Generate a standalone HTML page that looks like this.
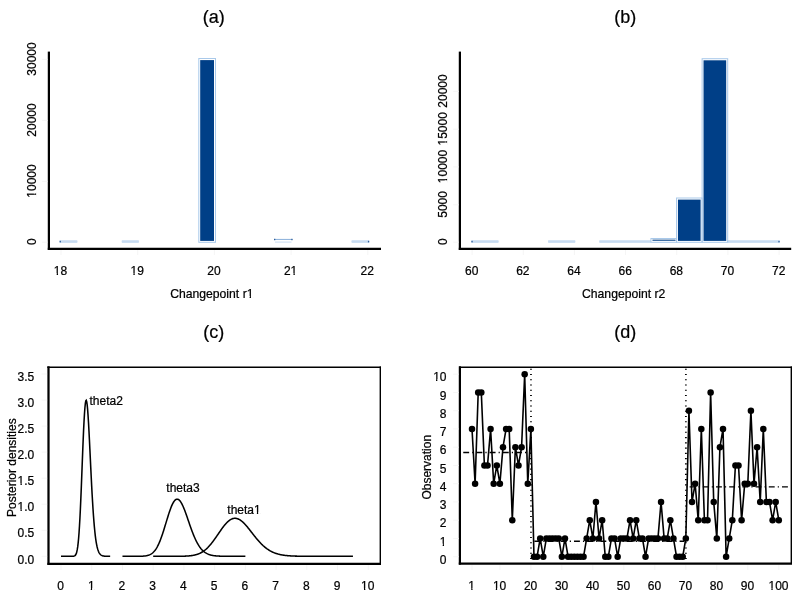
<!DOCTYPE html>
<html><head><meta charset="utf-8"><title>chart</title>
<style>html,body{margin:0;padding:0;background:#fff}svg{display:block;will-change:transform}text{font-family:"Liberation Sans",sans-serif;fill:#000;stroke:#000;stroke-width:0.22px}</style>
</head><body>
<svg width="800" height="601" viewBox="0 0 800 601">
<rect width="800" height="601" fill="#fff"/>
<text x="213.8" y="22.7" font-size="18" text-anchor="middle">(a)</text>
<text x="625.3" y="22.7" font-size="18" text-anchor="middle">(b)</text>
<text x="213.8" y="337.8" font-size="18" text-anchor="middle">(c)</text>
<text x="625.3" y="337.8" font-size="18" text-anchor="middle">(d)</text>
<line x1="48.9" y1="51.6" x2="48.9" y2="249.9" stroke="#000" stroke-width="2.25"/>
<line x1="47.8" y1="248.8" x2="381" y2="248.8" stroke="#000" stroke-width="2.25"/>
<text x="60.5" y="275.3" font-size="12" text-anchor="middle">18</text>
<line x1="61.00" y1="250" x2="61.00" y2="255" stroke="#f5f5f5" stroke-width="1"/>
<text x="137.2" y="275.3" font-size="12" text-anchor="middle">19</text>
<line x1="137.70" y1="250" x2="137.70" y2="255" stroke="#f5f5f5" stroke-width="1"/>
<text x="213.89999999999998" y="275.3" font-size="12" text-anchor="middle">20</text>
<line x1="214.40" y1="250" x2="214.40" y2="255" stroke="#f5f5f5" stroke-width="1"/>
<text x="290.6" y="275.3" font-size="12" text-anchor="middle">21</text>
<line x1="291.10" y1="250" x2="291.10" y2="255" stroke="#f5f5f5" stroke-width="1"/>
<text x="367.3" y="275.3" font-size="12" text-anchor="middle">22</text>
<line x1="367.80" y1="250" x2="367.80" y2="255" stroke="#f5f5f5" stroke-width="1"/>
<text x="35.8" y="241.75" font-size="12" text-anchor="middle" transform="rotate(-90 35.8 241.75)">0</text>
<line x1="42.0" y1="242.15" x2="47.5" y2="242.15" stroke="#f5f5f5" stroke-width="1"/>
<text x="35.8" y="181.0" font-size="12" text-anchor="middle" transform="rotate(-90 35.8 181.0)">10000</text>
<line x1="42.0" y1="181.40" x2="47.5" y2="181.40" stroke="#f5f5f5" stroke-width="1"/>
<text x="35.8" y="120.0" font-size="12" text-anchor="middle" transform="rotate(-90 35.8 120.0)">20000</text>
<line x1="42.0" y1="120.40" x2="47.5" y2="120.40" stroke="#f5f5f5" stroke-width="1"/>
<text x="35.8" y="59.0" font-size="12" text-anchor="middle" transform="rotate(-90 35.8 59.0)">30000</text>
<line x1="42.0" y1="59.40" x2="47.5" y2="59.40" stroke="#f5f5f5" stroke-width="1"/>
<text x="211.8" y="298.0" font-size="12.2" text-anchor="middle">Changepoint r1</text>
<g opacity="0.5"><rect x="59.60" y="240.25" width="17.70" height="1.7" fill="#8fb8e4"/><rect x="59.60" y="241.15" width="17.70" height="1.7" fill="#8fb8e4"/></g>
<rect x="59.60" y="240.80" width="1.30" height="1.60" fill="#2f5f9c" stroke="none" stroke-width="1"/>
<g opacity="0.5"><rect x="121.80" y="240.25" width="17.00" height="1.7" fill="#8fb8e4"/><rect x="121.80" y="241.15" width="17.00" height="1.7" fill="#8fb8e4"/></g>
<rect x="198.80" y="58.50" width="16.70" height="183.80" fill="none" stroke="#a9c9ea" stroke-width="1"/>
<rect x="200.20" y="60.10" width="13.80" height="180.80" fill="#003f87" stroke="none" stroke-width="1"/>
<line x1="274.3" y1="239.45" x2="292.3" y2="239.45" stroke="#93b6dd" stroke-width="1.1"/>
<rect x="274.00" y="238.80" width="1.30" height="1.40" fill="#2f5f9c" stroke="none" stroke-width="1"/>
<rect x="291.30" y="238.80" width="1.30" height="1.40" fill="#2f5f9c" stroke="none" stroke-width="1"/>
<line x1="275" y1="242.1" x2="291.5" y2="242.1" stroke="#c9dcf1" stroke-width="1"/>
<g opacity="0.5"><rect x="351.60" y="240.25" width="17.60" height="1.7" fill="#8fb8e4"/><rect x="351.60" y="241.15" width="17.60" height="1.7" fill="#8fb8e4"/></g>
<rect x="367.90" y="240.80" width="1.30" height="1.60" fill="#2f5f9c" stroke="none" stroke-width="1"/>
<line x1="459.9" y1="51.6" x2="459.9" y2="249.9" stroke="#000" stroke-width="2.25"/>
<line x1="458.8" y1="248.8" x2="791.2" y2="248.8" stroke="#000" stroke-width="2.25"/>
<text x="471.7" y="275.4" font-size="12" text-anchor="middle">60</text>
<line x1="472.10" y1="250" x2="472.10" y2="255" stroke="#f5f5f5" stroke-width="1"/>
<text x="522.8599999999999" y="275.4" font-size="12" text-anchor="middle">62</text>
<line x1="523.26" y1="250" x2="523.26" y2="255" stroke="#f5f5f5" stroke-width="1"/>
<text x="574.02" y="275.4" font-size="12" text-anchor="middle">64</text>
<line x1="574.42" y1="250" x2="574.42" y2="255" stroke="#f5f5f5" stroke-width="1"/>
<text x="625.18" y="275.4" font-size="12" text-anchor="middle">66</text>
<line x1="625.58" y1="250" x2="625.58" y2="255" stroke="#f5f5f5" stroke-width="1"/>
<text x="676.3399999999999" y="275.4" font-size="12" text-anchor="middle">68</text>
<line x1="676.74" y1="250" x2="676.74" y2="255" stroke="#f5f5f5" stroke-width="1"/>
<text x="727.4999999999999" y="275.4" font-size="12" text-anchor="middle">70</text>
<line x1="727.90" y1="250" x2="727.90" y2="255" stroke="#f5f5f5" stroke-width="1"/>
<text x="778.6599999999999" y="275.4" font-size="12" text-anchor="middle">72</text>
<line x1="779.06" y1="250" x2="779.06" y2="255" stroke="#f5f5f5" stroke-width="1"/>
<text x="446.7" y="241.75" font-size="12" text-anchor="middle" transform="rotate(-90 446.7 241.75)">0</text>
<line x1="453.2" y1="242.15" x2="458.7" y2="242.15" stroke="#f5f5f5" stroke-width="1"/>
<text x="446.7" y="204.4" font-size="12" text-anchor="middle" transform="rotate(-90 446.7 204.4)">5000</text>
<line x1="453.2" y1="204.80" x2="458.7" y2="204.80" stroke="#f5f5f5" stroke-width="1"/>
<text x="446.7" y="166.5" font-size="12" text-anchor="middle" transform="rotate(-90 446.7 166.5)">10000</text>
<line x1="453.2" y1="166.90" x2="458.7" y2="166.90" stroke="#f5f5f5" stroke-width="1"/>
<text x="446.7" y="128.8" font-size="12" text-anchor="middle" transform="rotate(-90 446.7 128.8)">15000</text>
<line x1="453.2" y1="129.20" x2="458.7" y2="129.20" stroke="#f5f5f5" stroke-width="1"/>
<text x="446.7" y="91.0" font-size="12" text-anchor="middle" transform="rotate(-90 446.7 91.0)">20000</text>
<line x1="453.2" y1="91.40" x2="458.7" y2="91.40" stroke="#f5f5f5" stroke-width="1"/>
<text x="623.7" y="298.2" font-size="12.2" text-anchor="middle">Changepoint r2</text>
<g opacity="0.5"><rect x="471.40" y="240.25" width="27.08" height="1.7" fill="#8fb8e4"/><rect x="471.40" y="241.15" width="27.08" height="1.7" fill="#8fb8e4"/></g>
<rect x="471.40" y="240.80" width="1.30" height="1.60" fill="#2f5f9c" stroke="none" stroke-width="1"/>
<g opacity="0.5"><rect x="548.14" y="240.25" width="27.08" height="1.7" fill="#8fb8e4"/><rect x="548.14" y="241.15" width="27.08" height="1.7" fill="#8fb8e4"/></g>
<g opacity="0.5"><rect x="599.30" y="240.25" width="51.66" height="1.7" fill="#8fb8e4"/><rect x="599.30" y="241.15" width="51.66" height="1.7" fill="#8fb8e4"/></g>
<rect x="650.96" y="238.50" width="25.58" height="3.80" fill="none" stroke="#a9c9ea" stroke-width="1"/>
<line x1="652.46" y1="240.2" x2="675.54" y2="240.2" stroke="#003f87" stroke-width="1.1"/>
<rect x="676.54" y="198.00" width="25.58" height="44.30" fill="none" stroke="#a9c9ea" stroke-width="1"/>
<rect x="677.94" y="199.60" width="22.68" height="41.30" fill="#003f87" stroke="none" stroke-width="1"/>
<rect x="702.12" y="58.70" width="25.58" height="183.60" fill="none" stroke="#a9c9ea" stroke-width="1"/>
<rect x="703.52" y="60.30" width="22.68" height="180.60" fill="#003f87" stroke="none" stroke-width="1"/>
<g opacity="0.5"><rect x="727.70" y="240.25" width="51.96" height="1.7" fill="#8fb8e4"/><rect x="727.70" y="241.15" width="51.96" height="1.7" fill="#8fb8e4"/></g>
<rect x="778.36" y="240.80" width="1.30" height="1.60" fill="#2f5f9c" stroke="none" stroke-width="1"/>
<line x1="48.5" y1="366.3" x2="48.5" y2="564.85" stroke="#000" stroke-width="2.25"/>
<line x1="47.4" y1="563.75" x2="381" y2="563.75" stroke="#000" stroke-width="2.25"/>
<line x1="47.3" y1="367.2" x2="381" y2="367.2" stroke="#000" stroke-width="1.4"/>
<line x1="380.3" y1="366.5" x2="380.3" y2="564" stroke="#000" stroke-width="1.4"/>
<text x="60.5" y="590.3" font-size="12" text-anchor="middle">0</text>
<line x1="61.00" y1="565" x2="61.00" y2="570" stroke="#f5f5f5" stroke-width="1"/>
<text x="91.23" y="590.3" font-size="12" text-anchor="middle">1</text>
<line x1="91.73" y1="565" x2="91.73" y2="570" stroke="#f5f5f5" stroke-width="1"/>
<text x="121.96000000000001" y="590.3" font-size="12" text-anchor="middle">2</text>
<line x1="122.46" y1="565" x2="122.46" y2="570" stroke="#f5f5f5" stroke-width="1"/>
<text x="152.69" y="590.3" font-size="12" text-anchor="middle">3</text>
<line x1="153.19" y1="565" x2="153.19" y2="570" stroke="#f5f5f5" stroke-width="1"/>
<text x="183.42000000000002" y="590.3" font-size="12" text-anchor="middle">4</text>
<line x1="183.92" y1="565" x2="183.92" y2="570" stroke="#f5f5f5" stroke-width="1"/>
<text x="214.15" y="590.3" font-size="12" text-anchor="middle">5</text>
<line x1="214.65" y1="565" x2="214.65" y2="570" stroke="#f5f5f5" stroke-width="1"/>
<text x="244.88" y="590.3" font-size="12" text-anchor="middle">6</text>
<line x1="245.38" y1="565" x2="245.38" y2="570" stroke="#f5f5f5" stroke-width="1"/>
<text x="275.61" y="590.3" font-size="12" text-anchor="middle">7</text>
<line x1="276.11" y1="565" x2="276.11" y2="570" stroke="#f5f5f5" stroke-width="1"/>
<text x="306.34000000000003" y="590.3" font-size="12" text-anchor="middle">8</text>
<line x1="306.84" y1="565" x2="306.84" y2="570" stroke="#f5f5f5" stroke-width="1"/>
<text x="337.07" y="590.3" font-size="12" text-anchor="middle">9</text>
<line x1="337.57" y1="565" x2="337.57" y2="570" stroke="#f5f5f5" stroke-width="1"/>
<text x="367.8" y="590.3" font-size="12" text-anchor="middle">10</text>
<line x1="368.30" y1="565" x2="368.30" y2="570" stroke="#f5f5f5" stroke-width="1"/>
<text x="34.3" y="563.5" font-size="12" text-anchor="end">0.0</text>
<line x1="41.6" y1="556.30" x2="47.1" y2="556.30" stroke="#f5f5f5" stroke-width="1"/>
<text x="34.3" y="537.46" font-size="12" text-anchor="end">0.5</text>
<line x1="41.6" y1="530.26" x2="47.1" y2="530.26" stroke="#f5f5f5" stroke-width="1"/>
<text x="34.3" y="511.41999999999996" font-size="12" text-anchor="end">1.0</text>
<line x1="41.6" y1="504.22" x2="47.1" y2="504.22" stroke="#f5f5f5" stroke-width="1"/>
<text x="34.3" y="485.37999999999994" font-size="12" text-anchor="end">1.5</text>
<line x1="41.6" y1="478.18" x2="47.1" y2="478.18" stroke="#f5f5f5" stroke-width="1"/>
<text x="34.3" y="459.34" font-size="12" text-anchor="end">2.0</text>
<line x1="41.6" y1="452.14" x2="47.1" y2="452.14" stroke="#f5f5f5" stroke-width="1"/>
<text x="34.3" y="433.29999999999995" font-size="12" text-anchor="end">2.5</text>
<line x1="41.6" y1="426.10" x2="47.1" y2="426.10" stroke="#f5f5f5" stroke-width="1"/>
<text x="34.3" y="407.25999999999993" font-size="12" text-anchor="end">3.0</text>
<line x1="41.6" y1="400.06" x2="47.1" y2="400.06" stroke="#f5f5f5" stroke-width="1"/>
<text x="34.3" y="381.21999999999997" font-size="12" text-anchor="end">3.5</text>
<line x1="41.6" y1="374.02" x2="47.1" y2="374.02" stroke="#f5f5f5" stroke-width="1"/>
<text x="15.8" y="467.7" font-size="12" text-anchor="middle" transform="rotate(-90 15.8 467.7)">Posterior densities</text>
<polyline points="61.00,556.30 61.45,556.30 61.90,556.30 62.35,556.30 62.80,556.30 63.26,556.30 63.71,556.30 64.16,556.30 64.61,556.30 65.06,556.30 65.51,556.30 65.96,556.30 66.41,556.30 66.86,556.30 67.32,556.30 67.77,556.30 68.22,556.30 68.67,556.30 69.12,556.30 69.57,556.30 70.02,556.30 70.47,556.30 70.92,556.30 71.37,556.30 71.83,556.30 72.28,556.29 72.73,556.27 73.18,556.25 73.63,556.19 74.08,556.09 74.53,555.92 74.98,555.63 75.43,555.16 75.89,554.44 76.34,553.38 76.79,551.85 77.24,549.73 77.69,546.88 78.14,543.17 78.59,538.48 79.04,532.69 79.49,525.77 79.95,517.69 80.40,508.53 80.85,498.39 81.30,487.46 81.75,475.99 82.20,464.28 82.65,452.65 83.10,441.48 83.55,431.09 84.01,421.82 84.46,413.96 84.91,407.75 85.36,403.35 85.81,400.86 86.26,400.29 86.71,401.62 87.16,404.71 87.61,409.42 88.06,415.52 88.52,422.78 88.97,430.96 89.42,439.79 89.87,449.04 90.32,458.46 90.77,467.85 91.22,477.04 91.67,485.87 92.12,494.23 92.58,502.03 93.03,509.22 93.48,515.76 93.93,521.65 94.38,526.89 94.83,531.52 95.28,535.55 95.73,539.05 96.18,542.04 96.64,544.59 97.09,546.74 97.54,548.55 97.99,550.05 98.44,551.28 98.89,552.30 99.34,553.12 99.79,553.79 100.24,554.33 100.70,554.76 101.15,555.10 101.60,555.38 102.05,555.59 102.50,555.75 102.95,555.88 103.40,555.98 103.85,556.06 104.30,556.12 104.76,556.16 105.21,556.20 105.66,556.22 106.11,556.24 106.56,556.26 107.01,556.27 107.46,556.28 107.91,556.28 108.36,556.29 108.81,556.29 109.27,556.29 109.72,556.30 110.17,556.30" fill="none" stroke="#000" stroke-width="1.55" stroke-linejoin="miter" stroke-miterlimit="10"/>
<polyline points="122.46,556.30 122.91,556.30 123.36,556.30 123.81,556.30 124.26,556.30 124.71,556.30 125.16,556.30 125.61,556.30 126.06,556.30 126.51,556.30 126.96,556.30 127.41,556.30 127.86,556.30 128.31,556.30 128.76,556.30 129.21,556.30 129.66,556.30 130.11,556.30 130.56,556.30 131.01,556.30 131.47,556.30 131.92,556.30 132.37,556.30 132.82,556.30 133.27,556.30 133.72,556.30 134.17,556.30 134.62,556.30 135.07,556.30 135.52,556.29 135.97,556.29 136.42,556.29 136.87,556.29 137.32,556.29 137.77,556.28 138.22,556.28 138.67,556.27 139.12,556.27 139.57,556.26 140.02,556.25 140.47,556.24 140.92,556.23 141.37,556.22 141.82,556.20 142.27,556.18 142.72,556.15 143.17,556.13 143.62,556.09 144.07,556.06 144.52,556.01 144.97,555.96 145.42,555.90 145.87,555.84 146.32,555.76 146.77,555.67 147.22,555.57 147.67,555.46 148.12,555.33 148.57,555.19 149.03,555.03 149.48,554.85 149.93,554.65 150.38,554.42 150.83,554.17 151.28,553.90 151.73,553.60 152.18,553.26 152.63,552.90 153.08,552.50 153.53,552.06 153.98,551.59 154.43,551.07 154.88,550.52 155.33,549.92 155.78,549.28 156.23,548.59 156.68,547.85 157.13,547.07 157.58,546.24 158.03,545.36 158.48,544.43 158.93,543.45 159.38,542.42 159.83,541.34 160.28,540.22 160.73,539.05 161.18,537.83 161.63,536.57 162.08,535.28 162.53,533.94 162.98,532.57 163.43,531.17 163.88,529.75 164.33,528.30 164.78,526.83 165.23,525.35 165.68,523.86 166.13,522.36 166.59,520.87 167.04,519.39 167.49,517.91 167.94,516.46 168.39,515.03 168.84,513.63 169.29,512.26 169.74,510.94 170.19,509.67 170.64,508.44 171.09,507.28 171.54,506.17 171.99,505.14 172.44,504.17 172.89,503.28 173.34,502.47 173.79,501.75 174.24,501.10 174.69,500.55 175.14,500.09 175.59,499.71 176.04,499.43 176.49,499.25 176.94,499.16 177.39,499.16 177.84,499.25 178.29,499.43 178.74,499.71 179.19,500.07 179.64,500.52 180.09,501.05 180.54,501.66 180.99,502.35 181.44,503.10 181.89,503.93 182.34,504.82 182.79,505.78 183.24,506.78 183.69,507.84 184.15,508.95 184.60,510.09 185.05,511.28 185.50,512.49 185.95,513.74 186.40,515.01 186.85,516.29 187.30,517.59 187.75,518.90 188.20,520.21 188.65,521.52 189.10,522.84 189.55,524.14 190.00,525.44 190.45,526.72 190.90,527.98 191.35,529.23 191.80,530.46 192.25,531.66 192.70,532.83 193.15,533.98 193.60,535.10 194.05,536.19 194.50,537.24 194.95,538.27 195.40,539.25 195.85,540.21 196.30,541.13 196.75,542.01 197.20,542.86 197.65,543.67 198.10,544.45 198.55,545.19 199.00,545.90 199.45,546.57 199.90,547.21 200.35,547.82 200.80,548.40 201.25,548.94 201.71,549.46 202.16,549.95 202.61,550.40 203.06,550.84 203.51,551.24 203.96,551.62 204.41,551.98 204.86,552.31 205.31,552.62 205.76,552.91 206.21,553.18 206.66,553.44 207.11,553.67 207.56,553.89 208.01,554.09 208.46,554.28 208.91,554.45 209.36,554.61 209.81,554.76 210.26,554.90 210.71,555.02 211.16,555.14 211.61,555.24 212.06,555.34 212.51,555.43 212.96,555.51 213.41,555.59 213.86,555.65 214.31,555.72 214.76,555.77 215.21,555.82 215.66,555.87 216.11,555.91 216.56,555.95 217.01,555.99 217.46,556.02 217.91,556.05 218.36,556.07 218.81,556.10 219.27,556.12 219.72,556.14 220.17,556.16 220.62,556.17 221.07,556.19 221.52,556.20 221.97,556.21 222.42,556.22 222.87,556.23 223.32,556.24 223.77,556.24 224.22,556.25 224.67,556.26 225.12,556.26 225.57,556.27 226.02,556.27 226.47,556.27 226.92,556.28 227.37,556.28 227.82,556.28 228.27,556.28 228.72,556.29 229.17,556.29 229.62,556.29 230.07,556.29 230.52,556.29 230.97,556.29 231.42,556.29 231.87,556.29 232.32,556.30 232.77,556.30 233.22,556.30 233.67,556.30 234.12,556.30 234.57,556.30 235.02,556.30 235.47,556.30 235.92,556.30 236.37,556.30 236.83,556.30 237.28,556.30 237.73,556.30 238.18,556.30 238.63,556.30 239.08,556.30 239.53,556.30 239.98,556.30 240.43,556.30 240.88,556.30 241.33,556.30 241.78,556.30 242.23,556.30 242.68,556.30 243.13,556.30 243.58,556.30 244.03,556.30 244.48,556.30 244.93,556.30 245.38,556.30" fill="none" stroke="#000" stroke-width="1.55" stroke-linejoin="miter" stroke-miterlimit="10"/>
<polyline points="153.19,556.30 153.64,556.30 154.09,556.30 154.54,556.30 154.99,556.30 155.44,556.30 155.89,556.30 156.34,556.30 156.79,556.30 157.24,556.30 157.69,556.30 158.14,556.30 158.59,556.30 159.04,556.30 159.49,556.30 159.94,556.30 160.39,556.30 160.84,556.30 161.29,556.30 161.74,556.30 162.19,556.30 162.64,556.30 163.09,556.30 163.54,556.30 163.99,556.30 164.44,556.30 164.89,556.30 165.34,556.30 165.79,556.30 166.24,556.30 166.69,556.30 167.14,556.30 167.59,556.30 168.04,556.30 168.49,556.30 168.94,556.30 169.39,556.30 169.84,556.30 170.29,556.30 170.74,556.30 171.19,556.30 171.63,556.30 172.08,556.30 172.53,556.30 172.98,556.30 173.43,556.29 173.88,556.29 174.33,556.29 174.78,556.29 175.23,556.29 175.68,556.29 176.13,556.29 176.58,556.29 177.03,556.28 177.48,556.28 177.93,556.28 178.38,556.27 178.83,556.27 179.28,556.27 179.73,556.26 180.18,556.26 180.63,556.25 181.08,556.25 181.53,556.24 181.98,556.23 182.43,556.22 182.88,556.21 183.33,556.20 183.78,556.19 184.23,556.17 184.68,556.16 185.13,556.14 185.58,556.12 186.03,556.10 186.48,556.08 186.93,556.06 187.38,556.03 187.83,556.00 188.28,555.97 188.73,555.93 189.18,555.89 189.63,555.85 190.08,555.81 190.53,555.76 190.98,555.70 191.43,555.64 191.88,555.58 192.33,555.51 192.78,555.44 193.23,555.36 193.68,555.27 194.13,555.18 194.58,555.08 195.03,554.98 195.48,554.86 195.93,554.74 196.38,554.61 196.83,554.47 197.28,554.33 197.73,554.17 198.18,554.00 198.63,553.83 199.08,553.64 199.53,553.44 199.98,553.24 200.43,553.02 200.88,552.78 201.33,552.54 201.78,552.28 202.23,552.01 202.68,551.73 203.13,551.43 203.58,551.12 204.03,550.80 204.48,550.46 204.93,550.11 205.38,549.74 205.83,549.36 206.28,548.97 206.73,548.56 207.18,548.14 207.63,547.70 208.07,547.24 208.52,546.78 208.97,546.30 209.42,545.80 209.87,545.29 210.32,544.77 210.77,544.23 211.22,543.69 211.67,543.13 212.12,542.55 212.57,541.97 213.02,541.38 213.47,540.77 213.92,540.16 214.37,539.54 214.82,538.91 215.27,538.28 215.72,537.63 216.17,536.99 216.62,536.33 217.07,535.68 217.52,535.02 217.97,534.36 218.42,533.70 218.87,533.04 219.32,532.38 219.77,531.73 220.22,531.07 220.67,530.43 221.12,529.79 221.57,529.15 222.02,528.53 222.47,527.91 222.92,527.31 223.37,526.71 223.82,526.13 224.27,525.56 224.72,525.01 225.17,524.48 225.62,523.96 226.07,523.46 226.52,522.97 226.97,522.51 227.42,522.07 227.87,521.65 228.32,521.25 228.77,520.87 229.22,520.52 229.67,520.19 230.12,519.89 230.57,519.61 231.02,519.36 231.47,519.13 231.92,518.93 232.37,518.76 232.82,518.61 233.27,518.50 233.72,518.41 234.17,518.34 234.62,518.31 235.07,518.30 235.52,518.32 235.97,518.36 236.42,518.44 236.87,518.54 237.32,518.66 237.77,518.81 238.22,518.99 238.67,519.19 239.12,519.42 239.57,519.67 240.02,519.94 240.47,520.23 240.92,520.55 241.37,520.89 241.82,521.25 242.27,521.62 242.72,522.02 243.17,522.43 243.62,522.87 244.06,523.31 244.51,523.77 244.96,524.25 245.41,524.74 245.86,525.24 246.31,525.76 246.76,526.28 247.21,526.81 247.66,527.36 248.11,527.91 248.56,528.46 249.01,529.02 249.46,529.59 249.91,530.16 250.36,530.74 250.81,531.32 251.26,531.90 251.71,532.48 252.16,533.06 252.61,533.64 253.06,534.22 253.51,534.79 253.96,535.37 254.41,535.94 254.86,536.50 255.31,537.06 255.76,537.62 256.21,538.17 256.66,538.71 257.11,539.25 257.56,539.78 258.01,540.31 258.46,540.82 258.91,541.33 259.36,541.83 259.81,542.32 260.26,542.80 260.71,543.27 261.16,543.73 261.61,544.18 262.06,544.62 262.51,545.05 262.96,545.48 263.41,545.89 263.86,546.29 264.31,546.68 264.76,547.06 265.21,547.43 265.66,547.79 266.11,548.14 266.56,548.48 267.01,548.81 267.46,549.12 267.91,549.43 268.36,549.73 268.81,550.02 269.26,550.30 269.71,550.57 270.16,550.83 270.61,551.08 271.06,551.32 271.51,551.55 271.96,551.78 272.41,551.99 272.86,552.20 273.31,552.40 273.76,552.59 274.21,552.78 274.66,552.95 275.11,553.12 275.56,553.28 276.01,553.44 276.46,553.59 276.91,553.73 277.36,553.86 277.81,553.99 278.26,554.12 278.71,554.24 279.16,554.35 279.61,554.46 280.06,554.56 280.50,554.65 280.95,554.75 281.40,554.83 281.85,554.92 282.30,555.00 282.75,555.07 283.20,555.14 283.65,555.21 284.10,555.28 284.55,555.34 285.00,555.40 285.45,555.45 285.90,555.50 286.35,555.55 286.80,555.60 287.25,555.64 287.70,555.68 288.15,555.72 288.60,555.76 289.05,555.79 289.50,555.82 289.95,555.85 290.40,555.88 290.85,555.91 291.30,555.94 291.75,555.96 292.20,555.98 292.65,556.00 293.10,556.02 293.55,556.04 294.00,556.06 294.45,556.08 294.90,556.09 295.35,556.11 295.80,556.12 296.25,556.13 296.70,556.14 297.15,556.15 297.60,556.16 298.05,556.17 298.50,556.18 298.95,556.19 299.40,556.20 299.85,556.21 300.30,556.21 300.75,556.22 301.20,556.23 301.65,556.23 302.10,556.24 302.55,556.24 303.00,556.25 303.45,556.25 303.90,556.25 304.35,556.26 304.80,556.26 305.25,556.26 305.70,556.27 306.15,556.27 306.60,556.27 307.05,556.27 307.50,556.28 307.95,556.28 308.40,556.28 308.85,556.28 309.30,556.28 309.75,556.28 310.20,556.29 310.65,556.29 311.10,556.29 311.55,556.29 312.00,556.29 312.45,556.29 312.90,556.29 313.35,556.29 313.80,556.29 314.25,556.29 314.70,556.29 315.15,556.29 315.60,556.29 316.05,556.30 316.50,556.30 316.94,556.30 317.39,556.30 317.84,556.30 318.29,556.30 318.74,556.30 319.19,556.30 319.64,556.30 320.09,556.30 320.54,556.30 320.99,556.30 321.44,556.30 321.89,556.30 322.34,556.30 322.79,556.30 323.24,556.30 323.69,556.30 324.14,556.30 324.59,556.30 325.04,556.30 325.49,556.30 325.94,556.30 326.39,556.30 326.84,556.30 327.29,556.30 327.74,556.30 328.19,556.30 328.64,556.30 329.09,556.30 329.54,556.30 329.99,556.30 330.44,556.30 330.89,556.30 331.34,556.30 331.79,556.30 332.24,556.30 332.69,556.30 333.14,556.30 333.59,556.30 334.04,556.30 334.49,556.30 334.94,556.30 335.39,556.30 335.84,556.30 336.29,556.30 336.74,556.30 337.19,556.30 337.64,556.30 338.09,556.30 338.54,556.30 338.99,556.30 339.44,556.30 339.89,556.30 340.34,556.30 340.79,556.30 341.24,556.30 341.69,556.30 342.14,556.30 342.59,556.30 343.04,556.30 343.49,556.30 343.94,556.30 344.39,556.30 344.84,556.30 345.29,556.30 345.74,556.30 346.19,556.30 346.64,556.30 347.09,556.30 347.54,556.30 347.99,556.30 348.44,556.30 348.89,556.30 349.34,556.30 349.79,556.30 350.24,556.30 350.69,556.30 351.14,556.30 351.59,556.30 352.04,556.30 352.49,556.30 352.94,556.30" fill="none" stroke="#000" stroke-width="1.55" stroke-linejoin="miter" stroke-miterlimit="10"/>
<text x="89.5" y="405" font-size="12" text-anchor="start">theta2</text>
<text x="166.3" y="492.3" font-size="12" text-anchor="start">theta3</text>
<text x="227.3" y="514.3" font-size="12" text-anchor="start">theta1</text>
<line x1="459.9" y1="366.3" x2="459.9" y2="564.6" stroke="#000" stroke-width="2.25"/>
<line x1="458.8" y1="563.5" x2="792" y2="563.5" stroke="#000" stroke-width="2.25"/>
<line x1="459" y1="367.2" x2="792" y2="367.2" stroke="#000" stroke-width="1.4"/>
<line x1="791.3" y1="366.5" x2="791.3" y2="564" stroke="#000" stroke-width="1.4"/>
<text x="471.7" y="590.3" font-size="12" text-anchor="middle">1</text>
<line x1="472.00" y1="565" x2="472.00" y2="570" stroke="#f5f5f5" stroke-width="1"/>
<text x="499.591" y="590.3" font-size="12" text-anchor="middle">10</text>
<line x1="499.89" y1="565" x2="499.89" y2="570" stroke="#f5f5f5" stroke-width="1"/>
<text x="530.581" y="590.3" font-size="12" text-anchor="middle">20</text>
<line x1="530.88" y1="565" x2="530.88" y2="570" stroke="#f5f5f5" stroke-width="1"/>
<text x="561.571" y="590.3" font-size="12" text-anchor="middle">30</text>
<line x1="561.87" y1="565" x2="561.87" y2="570" stroke="#f5f5f5" stroke-width="1"/>
<text x="592.561" y="590.3" font-size="12" text-anchor="middle">40</text>
<line x1="592.86" y1="565" x2="592.86" y2="570" stroke="#f5f5f5" stroke-width="1"/>
<text x="623.551" y="590.3" font-size="12" text-anchor="middle">50</text>
<line x1="623.85" y1="565" x2="623.85" y2="570" stroke="#f5f5f5" stroke-width="1"/>
<text x="654.541" y="590.3" font-size="12" text-anchor="middle">60</text>
<line x1="654.84" y1="565" x2="654.84" y2="570" stroke="#f5f5f5" stroke-width="1"/>
<text x="685.5310000000001" y="590.3" font-size="12" text-anchor="middle">70</text>
<line x1="685.83" y1="565" x2="685.83" y2="570" stroke="#f5f5f5" stroke-width="1"/>
<text x="716.5210000000001" y="590.3" font-size="12" text-anchor="middle">80</text>
<line x1="716.82" y1="565" x2="716.82" y2="570" stroke="#f5f5f5" stroke-width="1"/>
<text x="747.5110000000001" y="590.3" font-size="12" text-anchor="middle">90</text>
<line x1="747.81" y1="565" x2="747.81" y2="570" stroke="#f5f5f5" stroke-width="1"/>
<text x="778.5010000000001" y="590.3" font-size="12" text-anchor="middle">100</text>
<line x1="778.80" y1="565" x2="778.80" y2="570" stroke="#f5f5f5" stroke-width="1"/>
<text x="446.5" y="563.8000000000001" font-size="12" text-anchor="end">0</text>
<line x1="453.2" y1="556.70" x2="458.7" y2="556.70" stroke="#f5f5f5" stroke-width="1"/>
<text x="446.5" y="545.5500000000001" font-size="12" text-anchor="end">1</text>
<line x1="453.2" y1="538.45" x2="458.7" y2="538.45" stroke="#f5f5f5" stroke-width="1"/>
<text x="446.5" y="527.3000000000001" font-size="12" text-anchor="end">2</text>
<line x1="453.2" y1="520.20" x2="458.7" y2="520.20" stroke="#f5f5f5" stroke-width="1"/>
<text x="446.5" y="509.05000000000007" font-size="12" text-anchor="end">3</text>
<line x1="453.2" y1="501.95" x2="458.7" y2="501.95" stroke="#f5f5f5" stroke-width="1"/>
<text x="446.5" y="490.80000000000007" font-size="12" text-anchor="end">4</text>
<line x1="453.2" y1="483.70" x2="458.7" y2="483.70" stroke="#f5f5f5" stroke-width="1"/>
<text x="446.5" y="472.55000000000007" font-size="12" text-anchor="end">5</text>
<line x1="453.2" y1="465.45" x2="458.7" y2="465.45" stroke="#f5f5f5" stroke-width="1"/>
<text x="446.5" y="454.30000000000007" font-size="12" text-anchor="end">6</text>
<line x1="453.2" y1="447.20" x2="458.7" y2="447.20" stroke="#f5f5f5" stroke-width="1"/>
<text x="446.5" y="436.05000000000007" font-size="12" text-anchor="end">7</text>
<line x1="453.2" y1="428.95" x2="458.7" y2="428.95" stroke="#f5f5f5" stroke-width="1"/>
<text x="446.5" y="417.80000000000007" font-size="12" text-anchor="end">8</text>
<line x1="453.2" y1="410.70" x2="458.7" y2="410.70" stroke="#f5f5f5" stroke-width="1"/>
<text x="446.5" y="399.55000000000007" font-size="12" text-anchor="end">9</text>
<line x1="453.2" y1="392.45" x2="458.7" y2="392.45" stroke="#f5f5f5" stroke-width="1"/>
<text x="446.5" y="381.30000000000007" font-size="12" text-anchor="end">10</text>
<line x1="453.2" y1="374.20" x2="458.7" y2="374.20" stroke="#f5f5f5" stroke-width="1"/>
<text x="431.1" y="467.2" font-size="12" text-anchor="middle" transform="rotate(-90 431.1 467.2)">Observation</text>
<line x1="530.981" y1="368.65" x2="530.981" y2="562" stroke="#000" stroke-width="1.8" stroke-dasharray="1.1 4.16"/>
<line x1="685.881" y1="368.65" x2="685.881" y2="562" stroke="#000" stroke-width="1.8" stroke-dasharray="1.1 4.16"/>
<line x1="463.25" y1="452.5" x2="530.5" y2="452.5" stroke="#000" stroke-width="1.35" stroke-dasharray="5.9 3.05 1.2 3.05"/>
<line x1="532" y1="541.2" x2="684" y2="541.2" stroke="#000" stroke-width="1.35" stroke-dasharray="5.9 3.05 1.2 3.05" stroke-dashoffset="10.8"/>
<line x1="686" y1="486.8" x2="790.5" y2="486.8" stroke="#000" stroke-width="1.35" stroke-dasharray="5.9 3.05 1.2 3.05" stroke-dashoffset="9.6"/>
<polyline points="472.00,428.95 475.10,483.70 478.20,392.45 481.30,392.45 484.40,465.45 487.50,465.45 490.59,428.95 493.69,483.70 496.79,465.45 499.89,483.70 502.99,447.20 506.09,428.95 509.19,428.95 512.29,520.20 515.39,447.20 518.49,465.45 521.58,447.20 524.68,374.20 527.78,483.70 530.88,428.95 533.98,556.70 537.08,556.70 540.18,538.45 543.28,556.70 546.38,538.45 549.48,538.45 552.57,538.45 555.67,538.45 558.77,538.45 561.87,556.70 564.97,538.45 568.07,556.70 571.17,556.70 574.27,556.70 577.37,556.70 580.47,556.70 583.56,556.70 586.66,538.45 589.76,520.20 592.86,538.45 595.96,501.95 599.06,538.45 602.16,520.20 605.26,556.70 608.36,556.70 611.46,538.45 614.55,538.45 617.65,556.70 620.75,538.45 623.85,538.45 626.95,538.45 630.05,520.20 633.15,538.45 636.25,520.20 639.35,538.45 642.45,538.45 645.54,556.70 648.64,538.45 651.74,538.45 654.84,538.45 657.94,538.45 661.04,501.95 664.14,538.45 667.24,538.45 670.34,520.20 673.43,538.45 676.53,556.70 679.63,556.70 682.73,556.70 685.83,538.45 688.93,410.70 692.03,501.95 695.13,483.70 698.23,520.20 701.33,428.95 704.42,520.20 707.52,520.20 710.62,392.45 713.72,501.95 716.82,538.45 719.92,447.20 723.02,428.95 726.12,556.70 729.22,538.45 732.32,520.20 735.41,465.45 738.51,465.45 741.61,520.20 744.71,483.70 747.81,483.70 750.91,410.70 754.01,483.70 757.11,447.20 760.21,501.95 763.31,428.95 766.40,501.95 769.50,501.95 772.60,520.20 775.70,501.95 778.80,520.20" fill="none" stroke="#000" stroke-width="1.6" stroke-linejoin="round"/>
<circle cx="472.00" cy="428.95" r="3.25"/>
<circle cx="475.10" cy="483.70" r="3.25"/>
<circle cx="478.20" cy="392.45" r="3.25"/>
<circle cx="481.30" cy="392.45" r="3.25"/>
<circle cx="484.40" cy="465.45" r="3.25"/>
<circle cx="487.50" cy="465.45" r="3.25"/>
<circle cx="490.59" cy="428.95" r="3.25"/>
<circle cx="493.69" cy="483.70" r="3.25"/>
<circle cx="496.79" cy="465.45" r="3.25"/>
<circle cx="499.89" cy="483.70" r="3.25"/>
<circle cx="502.99" cy="447.20" r="3.25"/>
<circle cx="506.09" cy="428.95" r="3.25"/>
<circle cx="509.19" cy="428.95" r="3.25"/>
<circle cx="512.29" cy="520.20" r="3.25"/>
<circle cx="515.39" cy="447.20" r="3.25"/>
<circle cx="518.49" cy="465.45" r="3.25"/>
<circle cx="521.58" cy="447.20" r="3.25"/>
<circle cx="524.68" cy="374.20" r="3.25"/>
<circle cx="527.78" cy="483.70" r="3.25"/>
<circle cx="530.88" cy="428.95" r="3.25"/>
<circle cx="533.98" cy="556.70" r="3.25"/>
<circle cx="537.08" cy="556.70" r="3.25"/>
<circle cx="540.18" cy="538.45" r="3.25"/>
<circle cx="543.28" cy="556.70" r="3.25"/>
<circle cx="546.38" cy="538.45" r="3.25"/>
<circle cx="549.48" cy="538.45" r="3.25"/>
<circle cx="552.57" cy="538.45" r="3.25"/>
<circle cx="555.67" cy="538.45" r="3.25"/>
<circle cx="558.77" cy="538.45" r="3.25"/>
<circle cx="561.87" cy="556.70" r="3.25"/>
<circle cx="564.97" cy="538.45" r="3.25"/>
<circle cx="568.07" cy="556.70" r="3.25"/>
<circle cx="571.17" cy="556.70" r="3.25"/>
<circle cx="574.27" cy="556.70" r="3.25"/>
<circle cx="577.37" cy="556.70" r="3.25"/>
<circle cx="580.47" cy="556.70" r="3.25"/>
<circle cx="583.56" cy="556.70" r="3.25"/>
<circle cx="586.66" cy="538.45" r="3.25"/>
<circle cx="589.76" cy="520.20" r="3.25"/>
<circle cx="592.86" cy="538.45" r="3.25"/>
<circle cx="595.96" cy="501.95" r="3.25"/>
<circle cx="599.06" cy="538.45" r="3.25"/>
<circle cx="602.16" cy="520.20" r="3.25"/>
<circle cx="605.26" cy="556.70" r="3.25"/>
<circle cx="608.36" cy="556.70" r="3.25"/>
<circle cx="611.46" cy="538.45" r="3.25"/>
<circle cx="614.55" cy="538.45" r="3.25"/>
<circle cx="617.65" cy="556.70" r="3.25"/>
<circle cx="620.75" cy="538.45" r="3.25"/>
<circle cx="623.85" cy="538.45" r="3.25"/>
<circle cx="626.95" cy="538.45" r="3.25"/>
<circle cx="630.05" cy="520.20" r="3.25"/>
<circle cx="633.15" cy="538.45" r="3.25"/>
<circle cx="636.25" cy="520.20" r="3.25"/>
<circle cx="639.35" cy="538.45" r="3.25"/>
<circle cx="642.45" cy="538.45" r="3.25"/>
<circle cx="645.54" cy="556.70" r="3.25"/>
<circle cx="648.64" cy="538.45" r="3.25"/>
<circle cx="651.74" cy="538.45" r="3.25"/>
<circle cx="654.84" cy="538.45" r="3.25"/>
<circle cx="657.94" cy="538.45" r="3.25"/>
<circle cx="661.04" cy="501.95" r="3.25"/>
<circle cx="664.14" cy="538.45" r="3.25"/>
<circle cx="667.24" cy="538.45" r="3.25"/>
<circle cx="670.34" cy="520.20" r="3.25"/>
<circle cx="673.43" cy="538.45" r="3.25"/>
<circle cx="676.53" cy="556.70" r="3.25"/>
<circle cx="679.63" cy="556.70" r="3.25"/>
<circle cx="682.73" cy="556.70" r="3.25"/>
<circle cx="685.83" cy="538.45" r="3.25"/>
<circle cx="688.93" cy="410.70" r="3.25"/>
<circle cx="692.03" cy="501.95" r="3.25"/>
<circle cx="695.13" cy="483.70" r="3.25"/>
<circle cx="698.23" cy="520.20" r="3.25"/>
<circle cx="701.33" cy="428.95" r="3.25"/>
<circle cx="704.42" cy="520.20" r="3.25"/>
<circle cx="707.52" cy="520.20" r="3.25"/>
<circle cx="710.62" cy="392.45" r="3.25"/>
<circle cx="713.72" cy="501.95" r="3.25"/>
<circle cx="716.82" cy="538.45" r="3.25"/>
<circle cx="719.92" cy="447.20" r="3.25"/>
<circle cx="723.02" cy="428.95" r="3.25"/>
<circle cx="726.12" cy="556.70" r="3.25"/>
<circle cx="729.22" cy="538.45" r="3.25"/>
<circle cx="732.32" cy="520.20" r="3.25"/>
<circle cx="735.41" cy="465.45" r="3.25"/>
<circle cx="738.51" cy="465.45" r="3.25"/>
<circle cx="741.61" cy="520.20" r="3.25"/>
<circle cx="744.71" cy="483.70" r="3.25"/>
<circle cx="747.81" cy="483.70" r="3.25"/>
<circle cx="750.91" cy="410.70" r="3.25"/>
<circle cx="754.01" cy="483.70" r="3.25"/>
<circle cx="757.11" cy="447.20" r="3.25"/>
<circle cx="760.21" cy="501.95" r="3.25"/>
<circle cx="763.31" cy="428.95" r="3.25"/>
<circle cx="766.40" cy="501.95" r="3.25"/>
<circle cx="769.50" cy="501.95" r="3.25"/>
<circle cx="772.60" cy="520.20" r="3.25"/>
<circle cx="775.70" cy="501.95" r="3.25"/>
<circle cx="778.80" cy="520.20" r="3.25"/>
<g fill="#fff"><rect x="53.67" y="273.32" width="3.03" height="2.98"/><rect x="58.02" y="273.32" width="2.67" height="2.98"/></g>
<g fill="#fff"><rect x="130.37" y="273.32" width="3.03" height="2.98"/><rect x="134.72" y="273.32" width="2.67" height="2.98"/></g>
<g fill="#fff"><rect x="290.44" y="273.32" width="3.03" height="2.98"/><rect x="294.79" y="273.32" width="2.67" height="2.98"/></g>
<g transform="rotate(-90 35.8 181.0)" fill="#fff"><rect x="18.96" y="179.02" width="3.03" height="2.98"/><rect x="23.31" y="179.02" width="2.67" height="2.98"/></g>
<g fill="#fff"><rect x="246.54" y="296.00" width="3.08" height="3.00"/><rect x="250.96" y="296.00" width="2.72" height="3.00"/></g>
<g transform="rotate(-90 446.7 166.5)" fill="#fff"><rect x="429.86" y="164.52" width="3.03" height="2.98"/><rect x="434.21" y="164.52" width="2.67" height="2.98"/></g>
<g transform="rotate(-90 446.7 128.8)" fill="#fff"><rect x="429.86" y="126.82" width="3.03" height="2.98"/><rect x="434.21" y="126.82" width="2.67" height="2.98"/></g>
<g fill="#fff"><rect x="87.74" y="588.32" width="3.03" height="2.98"/><rect x="92.08" y="588.32" width="2.67" height="2.98"/></g>
<g fill="#fff"><rect x="360.97" y="588.32" width="3.03" height="2.98"/><rect x="365.32" y="588.32" width="2.67" height="2.98"/></g>
<g fill="#fff"><rect x="17.46" y="509.44" width="3.03" height="2.98"/><rect x="21.81" y="509.44" width="2.67" height="2.98"/></g>
<g fill="#fff"><rect x="17.46" y="483.40" width="3.03" height="2.98"/><rect x="21.81" y="483.40" width="2.67" height="2.98"/></g>
<g fill="#fff"><rect x="253.84" y="512.32" width="3.03" height="2.98"/><rect x="258.19" y="512.32" width="2.67" height="2.98"/></g>
<g fill="#fff"><rect x="468.21" y="588.32" width="3.03" height="2.98"/><rect x="472.55" y="588.32" width="2.67" height="2.98"/></g>
<g fill="#fff"><rect x="492.76" y="588.32" width="3.03" height="2.98"/><rect x="497.11" y="588.32" width="2.67" height="2.98"/></g>
<g fill="#fff"><rect x="768.34" y="588.32" width="3.03" height="2.98"/><rect x="772.68" y="588.32" width="2.67" height="2.98"/></g>
<g fill="#fff"><rect x="439.66" y="543.57" width="3.03" height="2.98"/><rect x="444.01" y="543.57" width="2.67" height="2.98"/></g>
<g fill="#fff"><rect x="432.99" y="379.32" width="3.03" height="2.98"/><rect x="437.34" y="379.32" width="2.67" height="2.98"/></g>
</svg>
</body></html>
